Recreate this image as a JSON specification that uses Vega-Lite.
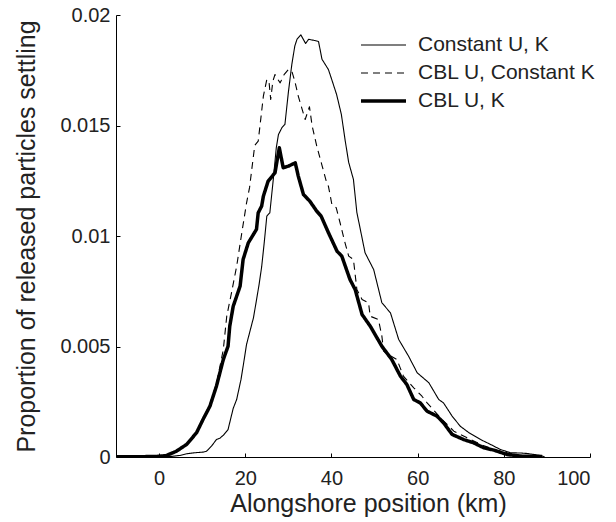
{
  "$schema": "https://vega.github.io/schema/vega-lite/v6.json",
  "autosize": {"type": "none"},
  "width": 474,
  "height": 442,
  "padding": {"left": 116, "top": 15, "right": 26, "bottom": 65},
  "background": "white",
  "config": {
    "view": {"stroke": null},
    "font": "Liberation Sans",
    "axis": {"grid": false, "domainColor": "black", "tickColor": "black", "labelColor": "#222", "titleColor": "#222", "labelFont": "Liberation Sans", "titleFont": "Liberation Sans", "labelFontSize": 20, "titleFontSize": 25, "titleFontWeight": "normal", "tickSize": -4, "domainWidth": 1, "tickWidth": 1}
  },
  "data": {"values": [
    {"x": -10, "y": 0, "series": "Constant U, K"},
    {"x": -5, "y": 0, "series": "Constant U, K"},
    {"x": 0, "y": 0.00001, "series": "Constant U, K"},
    {"x": 3, "y": 0.00003, "series": "Constant U, K"},
    {"x": 4.8, "y": 0.00007, "series": "Constant U, K"},
    {"x": 6.5, "y": 0.00015, "series": "Constant U, K"},
    {"x": 8.7, "y": 0.0002, "series": "Constant U, K"},
    {"x": 10.2, "y": 0.00022, "series": "Constant U, K"},
    {"x": 11.0, "y": 0.00026, "series": "Constant U, K"},
    {"x": 12.2, "y": 0.0005, "series": "Constant U, K"},
    {"x": 13.3, "y": 0.00079, "series": "Constant U, K"},
    {"x": 14.1, "y": 0.00085, "series": "Constant U, K"},
    {"x": 15.0, "y": 0.001, "series": "Constant U, K"},
    {"x": 16.0, "y": 0.00124, "series": "Constant U, K"},
    {"x": 17.2, "y": 0.0022, "series": "Constant U, K"},
    {"x": 18.0, "y": 0.0026, "series": "Constant U, K"},
    {"x": 19.0, "y": 0.0035, "series": "Constant U, K"},
    {"x": 19.5, "y": 0.0041, "series": "Constant U, K"},
    {"x": 20.3, "y": 0.0051, "series": "Constant U, K"},
    {"x": 21.1, "y": 0.0057, "series": "Constant U, K"},
    {"x": 21.9, "y": 0.0063, "series": "Constant U, K"},
    {"x": 22.6, "y": 0.0071, "series": "Constant U, K"},
    {"x": 23.2, "y": 0.0078, "series": "Constant U, K"},
    {"x": 23.8, "y": 0.0086, "series": "Constant U, K"},
    {"x": 24.4, "y": 0.0097, "series": "Constant U, K"},
    {"x": 25.0, "y": 0.0109, "series": "Constant U, K"},
    {"x": 25.7, "y": 0.01105, "series": "Constant U, K"},
    {"x": 26.5, "y": 0.01256, "series": "Constant U, K"},
    {"x": 27.2, "y": 0.014, "series": "Constant U, K"},
    {"x": 27.7, "y": 0.01459, "series": "Constant U, K"},
    {"x": 28.5, "y": 0.0149, "series": "Constant U, K"},
    {"x": 29.2, "y": 0.01505, "series": "Constant U, K"},
    {"x": 30.0, "y": 0.0165, "series": "Constant U, K"},
    {"x": 30.8, "y": 0.01776, "series": "Constant U, K"},
    {"x": 31.5, "y": 0.0186, "series": "Constant U, K"},
    {"x": 32.0, "y": 0.0189, "series": "Constant U, K"},
    {"x": 32.9, "y": 0.0191, "series": "Constant U, K"},
    {"x": 34.0, "y": 0.01871, "series": "Constant U, K"},
    {"x": 34.7, "y": 0.0189, "series": "Constant U, K"},
    {"x": 36.0, "y": 0.01885, "series": "Constant U, K"},
    {"x": 37.0, "y": 0.0188, "series": "Constant U, K"},
    {"x": 37.8, "y": 0.018, "series": "Constant U, K"},
    {"x": 39.3, "y": 0.01753, "series": "Constant U, K"},
    {"x": 40.2, "y": 0.017, "series": "Constant U, K"},
    {"x": 41.2, "y": 0.0164, "series": "Constant U, K"},
    {"x": 42.3, "y": 0.0155, "series": "Constant U, K"},
    {"x": 43.2, "y": 0.0143, "series": "Constant U, K"},
    {"x": 44.0, "y": 0.01333, "series": "Constant U, K"},
    {"x": 45.1, "y": 0.01256, "series": "Constant U, K"},
    {"x": 45.9, "y": 0.01106, "series": "Constant U, K"},
    {"x": 46.7, "y": 0.0103, "series": "Constant U, K"},
    {"x": 47.8, "y": 0.00924, "series": "Constant U, K"},
    {"x": 49.8, "y": 0.00848, "series": "Constant U, K"},
    {"x": 51.7, "y": 0.00698, "series": "Constant U, K"},
    {"x": 53.7, "y": 0.00652, "series": "Constant U, K"},
    {"x": 55.6, "y": 0.00532, "series": "Constant U, K"},
    {"x": 57.9, "y": 0.00456, "series": "Constant U, K"},
    {"x": 59.9, "y": 0.00381, "series": "Constant U, K"},
    {"x": 62.6, "y": 0.00336, "series": "Constant U, K"},
    {"x": 64.9, "y": 0.0026, "series": "Constant U, K"},
    {"x": 66.0, "y": 0.00245, "series": "Constant U, K"},
    {"x": 68.0, "y": 0.00185, "series": "Constant U, K"},
    {"x": 69.9, "y": 0.00139, "series": "Constant U, K"},
    {"x": 71.9, "y": 0.0011, "series": "Constant U, K"},
    {"x": 74.6, "y": 0.00079, "series": "Constant U, K"},
    {"x": 76.9, "y": 0.00057, "series": "Constant U, K"},
    {"x": 79.2, "y": 0.00034, "series": "Constant U, K"},
    {"x": 81.6, "y": 0.00019, "series": "Constant U, K"},
    {"x": 84.0, "y": 0.00018, "series": "Constant U, K"},
    {"x": 85.4, "y": 0.00016, "series": "Constant U, K"},
    {"x": 88.5, "y": 0.00007, "series": "Constant U, K"},
    {"x": 89.5, "y": 0, "series": "Constant U, K"},

    {"x": -10, "y": 0, "series": "CBL U, Constant K"},
    {"x": -5, "y": 0, "series": "CBL U, Constant K"},
    {"x": 0, "y": 0.00003, "series": "CBL U, Constant K"},
    {"x": 2, "y": 0.0001, "series": "CBL U, Constant K"},
    {"x": 4, "y": 0.00022, "series": "CBL U, Constant K"},
    {"x": 6, "y": 0.0005, "series": "CBL U, Constant K"},
    {"x": 8, "y": 0.0009, "series": "CBL U, Constant K"},
    {"x": 9, "y": 0.0012, "series": "CBL U, Constant K"},
    {"x": 10.2, "y": 0.0017, "series": "CBL U, Constant K"},
    {"x": 11.8, "y": 0.0024, "series": "CBL U, Constant K"},
    {"x": 13.3, "y": 0.0033, "series": "CBL U, Constant K"},
    {"x": 14.9, "y": 0.00486, "series": "CBL U, Constant K"},
    {"x": 15.7, "y": 0.00637, "series": "CBL U, Constant K"},
    {"x": 16.8, "y": 0.00743, "series": "CBL U, Constant K"},
    {"x": 18.0, "y": 0.00863, "series": "CBL U, Constant K"},
    {"x": 19.2, "y": 0.01015, "series": "CBL U, Constant K"},
    {"x": 20.3, "y": 0.0115, "series": "CBL U, Constant K"},
    {"x": 21.0, "y": 0.0122, "series": "CBL U, Constant K"},
    {"x": 21.5, "y": 0.013, "series": "CBL U, Constant K"},
    {"x": 22.2, "y": 0.0141, "series": "CBL U, Constant K"},
    {"x": 23.0, "y": 0.01429, "series": "CBL U, Constant K"},
    {"x": 23.6, "y": 0.0153, "series": "CBL U, Constant K"},
    {"x": 24.2, "y": 0.01633, "series": "CBL U, Constant K"},
    {"x": 25.0, "y": 0.01708, "series": "CBL U, Constant K"},
    {"x": 25.5, "y": 0.017, "series": "CBL U, Constant K"},
    {"x": 25.9, "y": 0.01618, "series": "CBL U, Constant K"},
    {"x": 26.4, "y": 0.017, "series": "CBL U, Constant K"},
    {"x": 26.9, "y": 0.01731, "series": "CBL U, Constant K"},
    {"x": 27.5, "y": 0.0171, "series": "CBL U, Constant K"},
    {"x": 28.1, "y": 0.01693, "series": "CBL U, Constant K"},
    {"x": 29.0, "y": 0.0173, "series": "CBL U, Constant K"},
    {"x": 30.0, "y": 0.01753, "series": "CBL U, Constant K"},
    {"x": 30.8, "y": 0.01746, "series": "CBL U, Constant K"},
    {"x": 31.5, "y": 0.017, "series": "CBL U, Constant K"},
    {"x": 32.3, "y": 0.01633, "series": "CBL U, Constant K"},
    {"x": 33.1, "y": 0.0158, "series": "CBL U, Constant K"},
    {"x": 33.9, "y": 0.01527, "series": "CBL U, Constant K"},
    {"x": 34.9, "y": 0.01585, "series": "CBL U, Constant K"},
    {"x": 35.5, "y": 0.015, "series": "CBL U, Constant K"},
    {"x": 36.6, "y": 0.01406, "series": "CBL U, Constant K"},
    {"x": 37.8, "y": 0.0132, "series": "CBL U, Constant K"},
    {"x": 38.9, "y": 0.01241, "series": "CBL U, Constant K"},
    {"x": 39.3, "y": 0.01225, "series": "CBL U, Constant K"},
    {"x": 40.1, "y": 0.01143, "series": "CBL U, Constant K"},
    {"x": 41.1, "y": 0.01128, "series": "CBL U, Constant K"},
    {"x": 42.0, "y": 0.0106, "series": "CBL U, Constant K"},
    {"x": 43.0, "y": 0.0098, "series": "CBL U, Constant K"},
    {"x": 44.0, "y": 0.00909, "series": "CBL U, Constant K"},
    {"x": 45.1, "y": 0.00894, "series": "CBL U, Constant K"},
    {"x": 45.9, "y": 0.00758, "series": "CBL U, Constant K"},
    {"x": 47.1, "y": 0.00713, "series": "CBL U, Constant K"},
    {"x": 48.6, "y": 0.00698, "series": "CBL U, Constant K"},
    {"x": 49.0, "y": 0.00637, "series": "CBL U, Constant K"},
    {"x": 50.9, "y": 0.00622, "series": "CBL U, Constant K"},
    {"x": 51.7, "y": 0.00547, "series": "CBL U, Constant K"},
    {"x": 52.1, "y": 0.00479, "series": "CBL U, Constant K"},
    {"x": 53.5, "y": 0.0046, "series": "CBL U, Constant K"},
    {"x": 55.2, "y": 0.00441, "series": "CBL U, Constant K"},
    {"x": 56.7, "y": 0.00366, "series": "CBL U, Constant K"},
    {"x": 59.1, "y": 0.00313, "series": "CBL U, Constant K"},
    {"x": 61.0, "y": 0.00275, "series": "CBL U, Constant K"},
    {"x": 62.2, "y": 0.00245, "series": "CBL U, Constant K"},
    {"x": 65.3, "y": 0.00177, "series": "CBL U, Constant K"},
    {"x": 68.4, "y": 0.00117, "series": "CBL U, Constant K"},
    {"x": 71.5, "y": 0.00087, "series": "CBL U, Constant K"},
    {"x": 74.6, "y": 0.00057, "series": "CBL U, Constant K"},
    {"x": 77.7, "y": 0.00034, "series": "CBL U, Constant K"},
    {"x": 80.8, "y": 0.00019, "series": "CBL U, Constant K"},
    {"x": 83.9, "y": 0.00007, "series": "CBL U, Constant K"},
    {"x": 87, "y": 0.00002, "series": "CBL U, Constant K"},
    {"x": 89, "y": 0, "series": "CBL U, Constant K"},

    {"x": -10, "y": 0.00001, "series": "CBL U, K"},
    {"x": -5, "y": 0.00001, "series": "CBL U, K"},
    {"x": 0, "y": 0.00003, "series": "CBL U, K"},
    {"x": 1.7, "y": 0.00007, "series": "CBL U, K"},
    {"x": 4.0, "y": 0.00026, "series": "CBL U, K"},
    {"x": 6.4, "y": 0.00057, "series": "CBL U, K"},
    {"x": 8.7, "y": 0.0011, "series": "CBL U, K"},
    {"x": 10.2, "y": 0.0017, "series": "CBL U, K"},
    {"x": 11.8, "y": 0.0023, "series": "CBL U, K"},
    {"x": 13.3, "y": 0.0032, "series": "CBL U, K"},
    {"x": 14.9, "y": 0.00441, "series": "CBL U, K"},
    {"x": 16.0, "y": 0.00501, "series": "CBL U, K"},
    {"x": 16.4, "y": 0.00592, "series": "CBL U, K"},
    {"x": 17.2, "y": 0.00682, "series": "CBL U, K"},
    {"x": 18.8, "y": 0.00773, "series": "CBL U, K"},
    {"x": 19.5, "y": 0.00894, "series": "CBL U, K"},
    {"x": 20.7, "y": 0.00969, "series": "CBL U, K"},
    {"x": 22.6, "y": 0.0103, "series": "CBL U, K"},
    {"x": 23.0, "y": 0.01105, "series": "CBL U, K"},
    {"x": 23.8, "y": 0.01135, "series": "CBL U, K"},
    {"x": 24.2, "y": 0.0118, "series": "CBL U, K"},
    {"x": 25.3, "y": 0.01248, "series": "CBL U, K"},
    {"x": 26.9, "y": 0.01286, "series": "CBL U, K"},
    {"x": 27.9, "y": 0.01399, "series": "CBL U, K"},
    {"x": 28.8, "y": 0.01309, "series": "CBL U, K"},
    {"x": 30.0, "y": 0.01316, "series": "CBL U, K"},
    {"x": 31.6, "y": 0.01331, "series": "CBL U, K"},
    {"x": 32.3, "y": 0.01271, "series": "CBL U, K"},
    {"x": 33.5, "y": 0.01188, "series": "CBL U, K"},
    {"x": 35.0, "y": 0.01157, "series": "CBL U, K"},
    {"x": 36.6, "y": 0.01112, "series": "CBL U, K"},
    {"x": 37.6, "y": 0.0109, "series": "CBL U, K"},
    {"x": 39.3, "y": 0.01015, "series": "CBL U, K"},
    {"x": 41.3, "y": 0.00931, "series": "CBL U, K"},
    {"x": 42.4, "y": 0.00909, "series": "CBL U, K"},
    {"x": 44.3, "y": 0.00803, "series": "CBL U, K"},
    {"x": 45.5, "y": 0.00758, "series": "CBL U, K"},
    {"x": 47.1, "y": 0.00645, "series": "CBL U, K"},
    {"x": 49.0, "y": 0.00592, "series": "CBL U, K"},
    {"x": 51.7, "y": 0.00501, "series": "CBL U, K"},
    {"x": 54.0, "y": 0.00441, "series": "CBL U, K"},
    {"x": 56.0, "y": 0.00366, "series": "CBL U, K"},
    {"x": 57.5, "y": 0.00328, "series": "CBL U, K"},
    {"x": 59.1, "y": 0.0026, "series": "CBL U, K"},
    {"x": 60.6, "y": 0.00245, "series": "CBL U, K"},
    {"x": 62.2, "y": 0.00207, "series": "CBL U, K"},
    {"x": 64.5, "y": 0.00185, "series": "CBL U, K"},
    {"x": 66.0, "y": 0.00155, "series": "CBL U, K"},
    {"x": 68.0, "y": 0.00102, "series": "CBL U, K"},
    {"x": 70.7, "y": 0.00079, "series": "CBL U, K"},
    {"x": 73.0, "y": 0.00064, "series": "CBL U, K"},
    {"x": 75.3, "y": 0.00042, "series": "CBL U, K"},
    {"x": 77.7, "y": 0.00031, "series": "CBL U, K"},
    {"x": 80.8, "y": 0.00011, "series": "CBL U, K"},
    {"x": 83.9, "y": 0.00004, "series": "CBL U, K"},
    {"x": 88.9, "y": 0.00002, "series": "CBL U, K"}
  ]},
  "mark": {"type": "line", "stroke": "black", "strokeJoin": "round", "clip": true},
  "encoding": {
    "x": {"field": "x", "type": "quantitative",
      "scale": {"domain": [-10, 100], "nice": false},
      "axis": {"values": [0, 20, 40, 60, 80, 100], "title": "Alongshore position (km)", "labelPadding": 15, "titleX": 252, "titleY": 54, "titleBaseline": "alphabetic", "titleAlign": "center"}},
    "y": {"field": "y", "type": "quantitative",
      "scale": {"domain": [0, 0.02], "nice": false},
      "axis": {"values": [0, 0.005, 0.01, 0.015, 0.02], "format": "~g", "title": "Proportion of released particles settling", "labelPadding": 10, "titleX": -77, "titleY": 221, "titleBaseline": "bottom", "titleAlign": "center", "titleAngle": -90}},
    "strokeDash": {"field": "series", "type": "nominal",
      "scale": {"domain": ["Constant U, K", "CBL U, Constant K", "CBL U, K"], "range": [[1, 0], [7, 5], [1, 0]]},
      "legend": {"title": null, "orient": "none", "legendX": 243, "legendY": 20, "symbolType": "stroke", "symbolSize": 2025, "symbolStrokeColor": "black", "labelFontSize": 21, "labelFont": "Liberation Sans", "labelColor": "#222", "labelOffset": 10, "labelLimit": 400, "clipHeight": 20, "rowPadding": 7, "padding": 0}},
    "strokeWidth": {"field": "series", "type": "nominal",
      "scale": {"type": "ordinal", "domain": ["Constant U, K", "CBL U, Constant K", "CBL U, K"], "range": [1.1, 1.1, 3.5]},
      "legend": {"title": null, "orient": "none", "legendX": 243, "legendY": 20, "symbolType": "stroke", "symbolSize": 2025, "symbolStrokeColor": "black", "labelFontSize": 21, "labelFont": "Liberation Sans", "labelColor": "#222", "labelOffset": 10, "labelLimit": 400, "clipHeight": 20, "rowPadding": 7, "padding": 0}}
  }
}
